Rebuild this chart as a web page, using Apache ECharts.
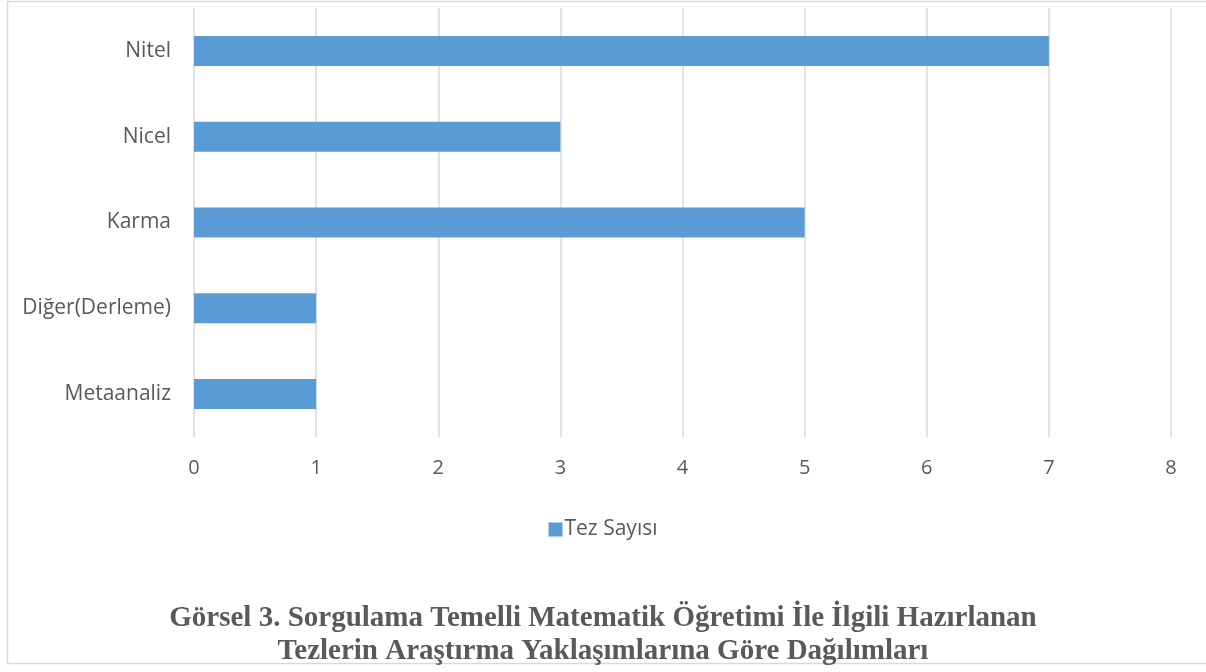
<!DOCTYPE html>
<html><head><meta charset="utf-8">
<script src="https://cdn.jsdelivr.net/npm/echarts@6/dist/echarts.min.js"></script>
<style>html,body{margin:0;padding:0;background:#fff}#c{width:1206px;height:672px}</style>
</head><body><div id="c"></div>
<script>
const categories = ['Metaanaliz', 'Diğer(Derleme)', 'Karma', 'Nicel', 'Nitel'];
const tezSayisi = [1, 1, 5, 3, 7];
const seriesName = 'Tez Sayısı';
const titleLines = ['Görsel 3. Sorgulama Temelli Matematik Öğretimi İle İlgili Hazırlanan', 'Tezlerin Araştırma Yaklaşımlarına Göre Dağılımları'];

const chart = echarts.init(document.getElementById('c'));
chart.setOption({
  animation: false,
  graphic: [{
    type: 'rect', shape: {x: 7.5, y: 1.5, width: 1210, height: 662},
    style: {fill: 'none', stroke: '#d9d9d9', lineWidth: 1.5}, silent: true
  }],
  title: {
    text: titleLines.join('\n'), left: 'center', top: 597,
    textStyle: {fontFamily: 'Liberation Serif', fontWeight: 'bold', fontSize: 29, color: '#595959', lineHeight: 33}
  },
  legend: {
    data: [seriesName], top: 514, left: 'center', itemWidth: 14, itemHeight: 14, icon: 'rect',
    itemGap: 4,
    textStyle: {fontFamily: 'Open Sans', fontSize: 21, color: '#595959', padding: [0,0,0,-3]}
  },
  grid: {left: 194, right: 35, top: 8, bottom: 235, containLabel: false},
  xAxis: {
    type: 'value', min: 0, max: 8, interval: 1,
    axisLine: {show: false}, axisTick: {show: false},
    axisLabel: {fontFamily: 'Open Sans', fontSize: 20, color: '#595959', margin: 21},
    splitLine: {lineStyle: {color: '#d9d9d9', width: 1.5}}
  },
  yAxis: {
    type: 'category', data: categories,
    axisLine: {show: false}, axisTick: {show: false},
    axisLabel: {fontFamily: 'Open Sans', fontSize: 21, color: '#595959', margin: 23}
  },
  series: [{
    name: seriesName, type: 'bar', data: tezSayisi, barWidth: 30,
    itemStyle: {color: '#5B9BD5'}
  }]
});
</script></body></html>
